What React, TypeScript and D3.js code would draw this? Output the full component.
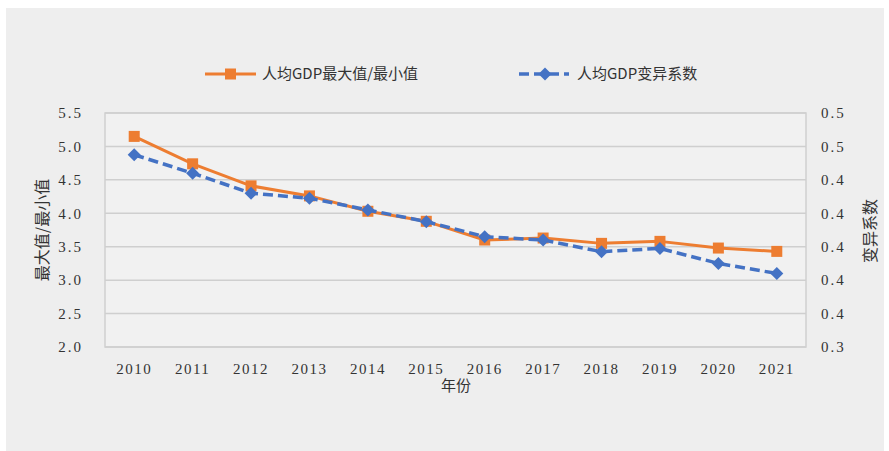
import React from "react"
import * as d3 from "d3"

const years = ["2010", "2011", "2012", "2013", "2014", "2015", "2016", "2017", "2018", "2019", "2020", "2021"]
const maxMinRatio = [5.15, 4.74, 4.41, 4.26, 4.03, 3.88, 3.6, 3.63, 3.55, 3.58, 3.48, 3.43]
const cvValues = [0.455, 0.444, 0.432, 0.429, 0.422, 0.415, 0.406, 0.404, 0.397, 0.399, 0.39, 0.384]
const leftTicks = [2.0, 2.5, 3.0, 3.5, 4.0, 4.5, 5.0, 5.5]
const rightTicks = [0.34, 0.36, 0.38, 0.4, 0.42, 0.44, 0.46, 0.48]
const rightTickLabels = ["0.3", "0.4", "0.4", "0.4", "0.4", "0.4", "0.5", "0.5"]
const seriesNames = ["人均GDP最大值/最小值", "人均GDP变异系数"]

const ORANGE = "#ED7D31"
const BLUE = "#4472C4"
const numFont = "'Liberation Serif', 'DejaVu Serif', serif"
const cjkFont = "'Noto Sans CJK SC', sans-serif"

export default function App() {
  const left = 105, right = 806, top = 113, bottom = 347

  const x = d3.scaleBand().domain(years).range([left, right])
  const yL = d3.scaleLinear().domain([2.0, 5.5]).range([bottom, top])
  const yR = d3.scaleLinear().domain([0.34, 0.48]).range([bottom, top])
  const cx = (d: string) => (x(d) as number) + x.bandwidth() / 2

  const orangeLine = d3.line<number>()
    .x((_, i) => cx(years[i]))
    .y((d) => yL(d))
  const blueLine = d3.line<number>()
    .x((_, i) => cx(years[i]))
    .y((d) => yR(d))

  // diamond marker path
  const diamond = (px: number, py: number, r: number) =>
    `M${px},${py - r}L${px + r},${py}L${px},${py + r}L${px - r},${py}Z`

  return (
    <svg width={889} height={451} style={{ position: "absolute", left: 0, top: 0 }}>
      <rect x={6} y={8} width={878} height={443} fill="#eeeeee" />
      <rect x={left} y={top} width={right - left} height={bottom - top} fill="#f1f1f1" />

      {leftTicks.map((t) => (
        <line key={t} x1={left} x2={right} y1={yL(t)} y2={yL(t)} stroke="#cfcfcf" strokeWidth={1.5} />
      ))}
      <rect x={left} y={top} width={right - left} height={bottom - top} fill="none" stroke="#cfcfcf" strokeWidth={1.5} />

      {leftTicks.map((t) => (
        <text key={t} x={83} y={yL(t)} dy="0.35em" textAnchor="end" fontFamily={numFont} fontSize={15} letterSpacing={2} fill="#333">
          {t.toFixed(1)}
        </text>
      ))}
      {rightTicks.map((t, i) => (
        <text key={t} x={821} y={yR(t)} dy="0.35em" textAnchor="start" fontFamily={numFont} fontSize={15} letterSpacing={2} fill="#333">
          {rightTickLabels[i]}
        </text>
      ))}
      {years.map((yr) => (
        <text key={yr} x={cx(yr)} y={369} dy="0.35em" textAnchor="middle" fontFamily={numFont} fontSize={15} letterSpacing={1.5} fill="#333">
          {yr}
        </text>
      ))}

      <text x={456} y={386} dy="0.35em" textAnchor="middle" fontFamily={cjkFont} fontSize={15} fill="#333">年份</text>
      <text transform={`translate(42,230) rotate(-90)`} dy="0.35em" textAnchor="middle" fontFamily={cjkFont} fontSize={16} fill="#333">最大值/最小值</text>
      <text transform={`translate(870,231) rotate(-90)`} dy="0.35em" textAnchor="middle" fontFamily={cjkFont} fontSize={16} fill="#333">变异系数</text>

      <path d={orangeLine(maxMinRatio) ?? ""} fill="none" stroke={ORANGE} strokeWidth={3} strokeLinejoin="round" />
      {maxMinRatio.map((v, i) => (
        <rect key={i} x={cx(years[i]) - 5.5} y={yL(v) - 5.5} width={11} height={11} fill={ORANGE} />
      ))}

      <path d={blueLine(cvValues) ?? ""} fill="none" stroke={BLUE} strokeWidth={3.5} strokeDasharray="10,5" strokeLinejoin="round" />
      {cvValues.map((v, i) => (
        <path key={i} d={diamond(cx(years[i]), yR(v), 6.5)} fill={BLUE} />
      ))}

      <g>
        <line x1={205} x2={256} y1={74} y2={74} stroke={ORANGE} strokeWidth={3} />
        <rect x={225} y={68.5} width={11} height={11} fill={ORANGE} />
        <text x={262} y={74} dy="0.35em" fontFamily={cjkFont} fontSize={15} fill="#333">{seriesNames[0]}</text>
      </g>
      <g>
        <line x1={519} x2={569} y1={74} y2={74} stroke={BLUE} strokeWidth={3.5} strokeDasharray="10,5" />
        <path d={diamond(545, 74, 6.5)} fill={BLUE} />
        <text x={577} y={74} dy="0.35em" fontFamily={cjkFont} fontSize={15} fill="#333">{seriesNames[1]}</text>
      </g>
    </svg>
  )
}
